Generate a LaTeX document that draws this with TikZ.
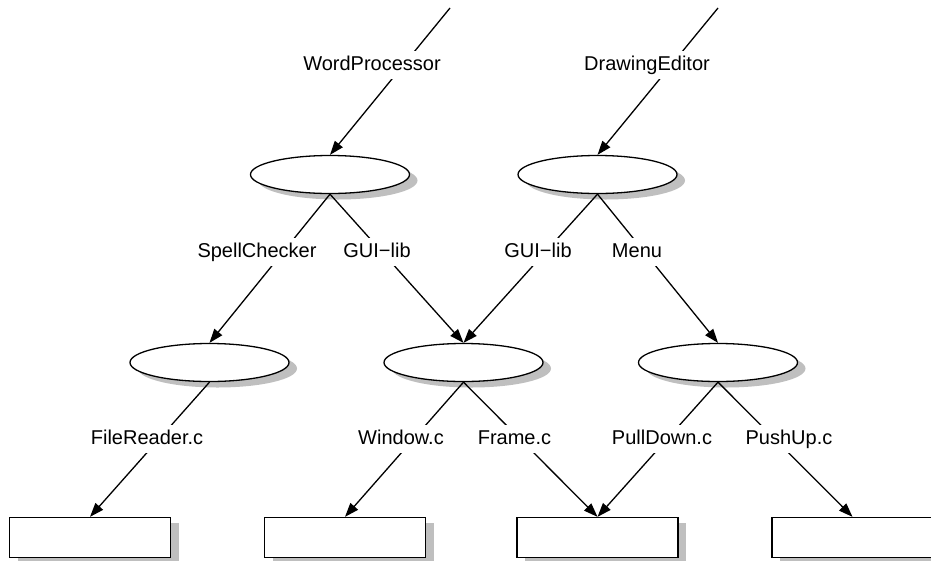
\documentclass[tikz,border=0pt]{standalone}
\usepackage{fontspec}
\setmainfont{Liberation Sans}
\usetikzlibrary{shapes.geometric,shadows,arrows.meta}
\tikzset{
  pkg/.style={ellipse, draw, line width=1.3pt, fill=white, inner sep=0pt,
    minimum width=159pt, minimum height=38pt,
    drop shadow={shadow xshift=8pt, shadow yshift=-6pt, fill=black!25, opacity=1}},
  file/.style={rectangle, draw, line width=1.3pt, fill=white, inner sep=0pt,
    minimum width=161pt, minimum height=40pt,
    drop shadow={shadow xshift=8pt, shadow yshift=-5pt, fill=black!25, opacity=1}},
  lbl/.style={fill=white, anchor=base, inner xsep=2pt, inner ysep=4.5pt,
    text height=15pt, text depth=4pt, font=\fontsize{20}{24}\selectfont},
}
\begin{document}
\begin{tikzpicture}[x=1pt,y=-1pt]
  \useasboundingbox (0,0) rectangle (931,560);
  \coordinate (wptop) at (450,8);
  \coordinate (detop) at (718,8);
  \draw
    (330,174.5) node[pkg] (wp){}
    (597.5,174.5) node[pkg] (de){}
    (209.5,362.5) node[pkg] (sc){}
    (463.5,362.5) node[pkg] (gui){}
    (718,362.5) node[pkg] (menu){}
    (90,537.5) node[file] (fr){}
    (345,537.5) node[file] (win){}
    (597.5,537.5) node[file] (frpd){}
    (852.5,537.5) node[file] (pu){};
  \begin{scope}[-{Triangle[length=14pt,width=10pt]}, line width=1.3pt]
    \draw (wptop) to (wp.north);
    \draw (detop) to (de.north);
    \draw (wp.south) to (sc.north);
    \draw (wp.south) to (gui.north);
    \draw (de.south) to (gui.north);
    \draw (de.south) to (menu.north);
    \draw (sc.south) to (fr.north);
    \draw (gui.south) to (win.north);
    \draw (gui.south) to (frpd.north);
    \draw (menu.south) to (frpd.north);
    \draw (menu.south) to (pu.north);
  \end{scope}
  \path
    (372,70.7) node[lbl] (lwp){WordProcessor}
    (647,70.5) node[lbl] (lde){DrawingEditor}
    (257,257.7) node[lbl] (lsc){SpellChecker}
    (377,257.7) node[lbl] (lgui1){GUI−lib}
    (538,257.7) node[lbl] (lgui2){GUI−lib}
    (637,257.7) node[lbl] (lmenu){Menu}
    (147,444.3) node[lbl] (lfr){FileReader.c}
    (401,444) node[lbl] (lwin){Window.c}
    (514.5,444) node[lbl] (lfrm){Frame.c}
    (662,444) node[lbl] (lpd){PullDown.c}
    (789,444) node[lbl] (lpu){PushUp.c};
\end{tikzpicture}
\end{document}
